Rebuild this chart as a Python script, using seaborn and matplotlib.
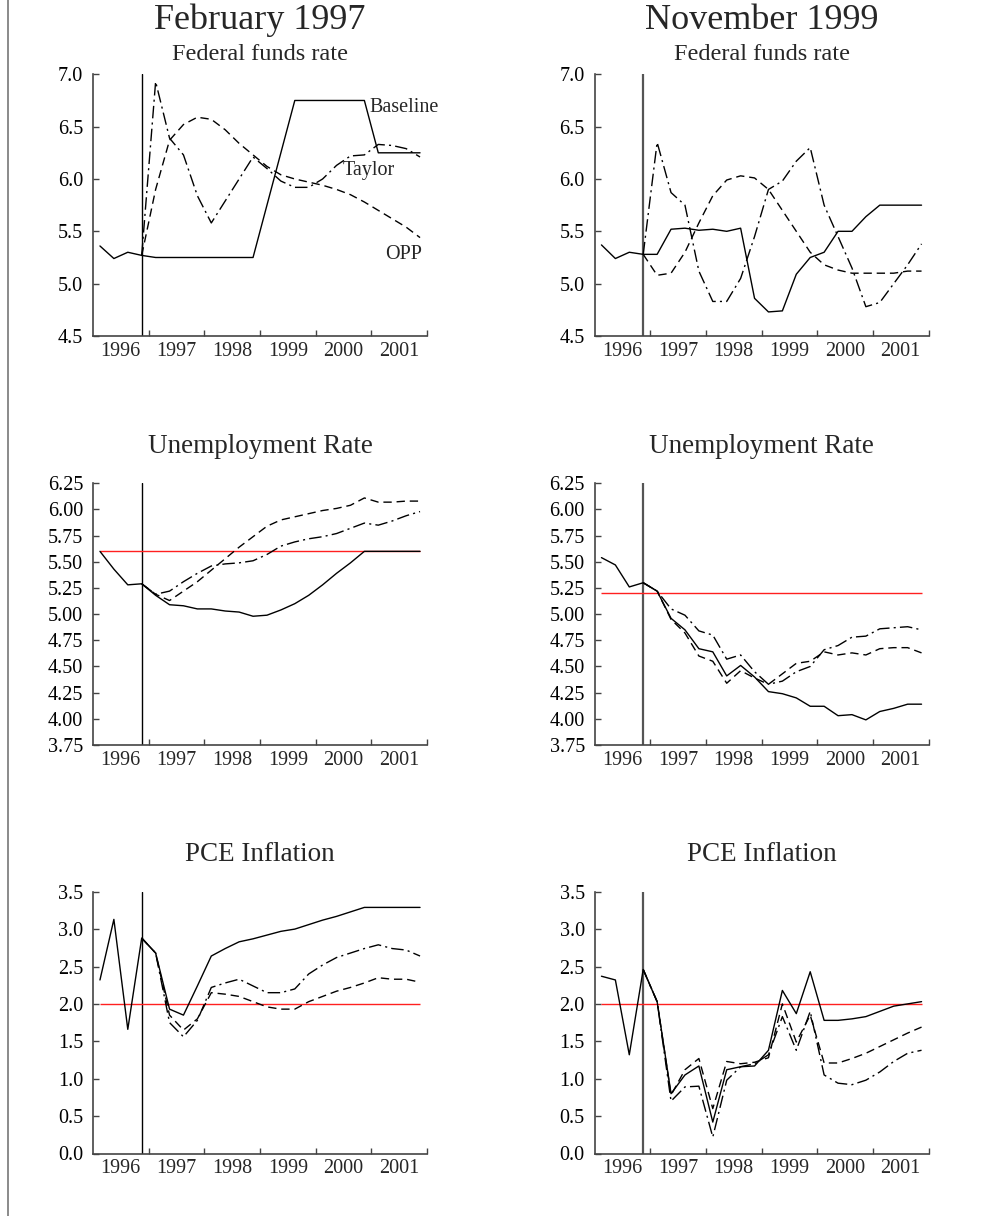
import matplotlib
matplotlib.use("Agg")
import matplotlib.pyplot as plt
import seaborn as sns
import numpy as np
from matplotlib.lines import Line2D

sns.set_theme(style="ticks")
plt.rcParams["font.family"] = ["Liberation Serif", "DejaVu Serif"]

# ---------------- data ----------------
quarter_labels = [f"{y}Q{q}" for y in range(1996, 2002) for q in range(1, 5)]
year_labels = ["1996", "1997", "1998", "1999", "2000", "2001"]
forecast_start = "1996Q4"

# Federal funds rate
feb_ff_base = [5.36, 5.24, 5.30, 5.27, 5.25, 5.25, 5.25, 5.25, 5.25, 5.25, 5.25, 5.25,
               5.75, 6.25, 6.75, 6.75, 6.75, 6.75, 6.75, 6.75, 6.25, 6.25, 6.25, 6.25]
feb_ff_taylor = [5.27, 6.93, 6.39, 6.23, 5.84, 5.58, 5.79, 6.00, 6.21, 6.10, 5.98, 5.92,
                 5.92, 6.00, 6.13, 6.22, 6.23, 6.33, 6.32, 6.29, 6.21]
feb_ff_opp = [5.27, 5.90, 6.37, 6.52, 6.59, 6.57, 6.47, 6.34, 6.23, 6.12, 6.04, 6.00,
              5.97, 5.94, 5.90, 5.85, 5.78, 5.70, 5.62, 5.54, 5.44]
nov_ff_base = [5.37, 5.24, 5.30, 5.28, 5.28, 5.52, 5.53, 5.51, 5.52, 5.50, 5.53, 4.86,
               4.73, 4.74, 5.09, 5.25, 5.30, 5.50, 5.50, 5.64, 5.75, 5.75, 5.75, 5.75]
nov_ff_taylor = [5.28, 6.35, 5.87, 5.75, 5.12, 4.83, 4.83, 5.05, 5.45, 5.90, 5.98, 6.17,
                 6.30, 5.75, 5.45, 5.15, 4.78, 4.82, 5.00, 5.18, 5.38]
nov_ff_opp = [5.28, 5.08, 5.10, 5.30, 5.58, 5.84, 5.99, 6.03, 6.01, 5.90, 5.70, 5.50,
              5.30, 5.18, 5.13, 5.10, 5.10, 5.10, 5.10, 5.12, 5.12]

# Unemployment rate
feb_ur_base = [5.60, 5.43, 5.28, 5.29, 5.18, 5.09, 5.08, 5.05, 5.05, 5.03, 5.02, 4.98,
               4.99, 5.04, 5.10, 5.18, 5.28, 5.39, 5.49, 5.60, 5.60, 5.60, 5.60, 5.60]
feb_ur_taylor = [5.29, 5.19, 5.22, 5.31, 5.39, 5.46, 5.48, 5.49, 5.51, 5.57, 5.65, 5.69,
                 5.72, 5.74, 5.77, 5.82, 5.87, 5.85, 5.89, 5.94, 5.98]
feb_ur_opp = [5.29, 5.19, 5.13, 5.22, 5.31, 5.42, 5.53, 5.64, 5.74, 5.84, 5.90, 5.93,
              5.96, 5.99, 6.01, 6.04, 6.11, 6.07, 6.07, 6.08, 6.08]
nov_ur_base = [5.54, 5.47, 5.26, 5.30, 5.22, 4.96, 4.85, 4.67, 4.64, 4.41, 4.51, 4.40,
               4.26, 4.24, 4.20, 4.12, 4.12, 4.03, 4.04, 3.99, 4.07, 4.10, 4.14, 4.14]
nov_ur_taylor = [5.30, 5.22, 5.05, 4.99, 4.84, 4.80, 4.57, 4.61, 4.45, 4.33, 4.36, 4.45,
                 4.50, 4.66, 4.70, 4.78, 4.79, 4.86, 4.87, 4.88, 4.85]
nov_ur_opp = [5.30, 5.22, 4.95, 4.82, 4.60, 4.55, 4.34, 4.46, 4.39, 4.33, 4.43, 4.53,
              4.55, 4.64, 4.61, 4.63, 4.61, 4.67, 4.68, 4.68, 4.63]

# PCE inflation
feb_pce_base = [2.32, 3.13, 1.66, 2.88, 2.68, 1.93, 1.85, 2.24, 2.64, 2.74, 2.83, 2.87,
                2.92, 2.97, 3.00, 3.06, 3.12, 3.17, 3.23, 3.29, 3.29, 3.29, 3.29, 3.29]
feb_pce_taylor = [2.88, 2.68, 1.75, 1.56, 1.78, 2.22, 2.28, 2.33, 2.24, 2.15, 2.15, 2.20,
                  2.40, 2.52, 2.62, 2.68, 2.74, 2.79, 2.74, 2.72, 2.64]
feb_pce_opp = [2.88, 2.68, 1.85, 1.65, 1.80, 2.15, 2.13, 2.10, 2.03, 1.96, 1.93, 1.93,
               2.03, 2.10, 2.17, 2.22, 2.28, 2.35, 2.33, 2.33, 2.29]
nov_pce_base = [2.37, 2.32, 1.32, 2.46, 2.03, 0.80, 1.05, 1.17, 0.42, 1.12, 1.16, 1.17,
                1.38, 2.18, 1.87, 2.43, 1.78, 1.78, 1.80, 1.83, 1.90, 1.97, 2.00, 2.03]
nov_pce_taylor = [2.46, 2.03, 0.70, 0.89, 0.90, 0.22, 0.98, 1.16, 1.20, 1.32, 1.83, 1.38,
                  1.90, 1.05, 0.94, 0.92, 0.98, 1.09, 1.23, 1.34, 1.38]
nov_pce_opp = [2.46, 2.03, 0.78, 1.12, 1.27, 0.60, 1.23, 1.20, 1.22, 1.28, 2.00, 1.49,
               1.85, 1.21, 1.21, 1.27, 1.34, 1.43, 1.52, 1.61, 1.69]

# reference lines (NAIRU / inflation target)
feb_ur_ref = 5.6
nov_ur_ref = 5.2
pce_ref = 2.0

ff_ticks = [4.5, 5.0, 5.5, 6.0, 6.5, 7.0]
ur_ticks = [3.75, 4.00, 4.25, 4.50, 4.75, 5.00, 5.25, 5.50, 5.75, 6.00, 6.25]
pce_ticks = [0.0, 0.5, 1.0, 1.5, 2.0, 2.5, 3.0, 3.5]


def qpos(label):
    y, q = label.split("Q")
    return int(y) + (int(q) - 0.5) / 4.0


xq = [qpos(l) for l in quarter_labels]
start_idx = quarter_labels.index(forecast_start)
xf = xq[start_idx:]

# ---------------- figure ----------------
W, H = 1005, 1216
fig = plt.figure(figsize=(W / 100, H / 100), dpi=100)


def px_axes(l, t, r, b):
    return fig.add_axes([l / W, 1 - b / H, (r - l) / W, (b - t) / H])


DASH = (0, (6, 3.5))
DASHDOT = (0, (9, 3, 1.5, 3))
SPINE = "#444444"


def style_axes(ax, ticks, fmt, vline_color, vline_lw):
    ax.set_xlim(1996, 2002)
    ax.set_ylim(ticks[0], ticks[-1])
    for s in ["top", "right"]:
        ax.spines[s].set_visible(False)
    for s in ["left", "bottom"]:
        ax.spines[s].set_color(SPINE)
        ax.spines[s].set_linewidth(1.2)
    ax.set_yticks(ticks)
    ax.set_yticklabels([fmt.format(t) for t in ticks])
    bounds = [int(y) + 1 for y in year_labels]
    ax.set_xticks(bounds)
    ax.set_xticklabels([""] * len(bounds))
    ax.set_xticks([int(y) + 0.5 for y in year_labels], minor=True)
    ax.set_xticklabels(year_labels, minor=True)
    ax.tick_params(axis="both", which="major", direction="in", length=4,
                   width=1, color=SPINE, labelsize=14.5, labelcolor="black")
    ax.tick_params(axis="y", pad=7)
    ax.tick_params(axis="x", which="minor", length=0, labelsize=14.5, pad=4)
    ax.axvline(xq[start_idx], color=vline_color, lw=vline_lw, zorder=1)
    ax.set_xlabel("")
    ax.set_ylabel("")
    ax.grid(False)
    ax.set_facecolor("white")


def draw(ax, base, taylor, opp, ref=None):
    if ref is not None:
        ax.hlines(ref, xq[0], xq[-1], color="#ff2020", lw=1.0, zorder=2)
    sns.lineplot(x=xf, y=opp, ax=ax, color="black", lw=1.0, linestyle=DASH,
                 errorbar=None, zorder=3)
    sns.lineplot(x=xf, y=taylor, ax=ax, color="black", lw=1.0, linestyle=DASHDOT,
                 errorbar=None, zorder=3)
    sns.lineplot(x=xq, y=base, ax=ax, color="black", lw=1.0, errorbar=None, zorder=4)


L = (93, 427)
R = (594.5, 928.5)
rows = [(74.3, 336), (483.3, 745), (891.7, 1153.5)]

ax = px_axes(L[0], rows[0][0], L[1], rows[0][1])
draw(ax, feb_ff_base, feb_ff_taylor, feb_ff_opp)
style_axes(ax, ff_ticks, "{:.1f}", "black", 1.0)
ax.text(2000.96, 6.685, "Baseline", fontsize=14.5, ha="left", va="center")
ax.text(2000.49, 6.085, "Taylor", fontsize=14.5, ha="left", va="center")
ax.text(2001.25, 5.28, "OPP", fontsize=14.5, ha="left", va="center")

ax = px_axes(R[0], rows[0][0], R[1], rows[0][1])
draw(ax, nov_ff_base, nov_ff_taylor, nov_ff_opp)
style_axes(ax, ff_ticks, "{:.1f}", "#555555", 1.6)

ax = px_axes(L[0], rows[1][0], L[1], rows[1][1])
draw(ax, feb_ur_base, feb_ur_taylor, feb_ur_opp, feb_ur_ref)
style_axes(ax, ur_ticks, "{:.2f}", "black", 1.0)

ax = px_axes(R[0], rows[1][0], R[1], rows[1][1])
draw(ax, nov_ur_base, nov_ur_taylor, nov_ur_opp, nov_ur_ref)
style_axes(ax, ur_ticks, "{:.2f}", "#555555", 1.6)

ax = px_axes(L[0], rows[2][0], L[1], rows[2][1])
draw(ax, feb_pce_base, feb_pce_taylor, feb_pce_opp, pce_ref)
style_axes(ax, pce_ticks, "{:.1f}", "black", 1.0)

ax = px_axes(R[0], rows[2][0], R[1], rows[2][1])
draw(ax, nov_pce_base, nov_pce_taylor, nov_pce_opp, pce_ref)
style_axes(ax, pce_ticks, "{:.1f}", "#555555", 1.6)

# titles
cl = (L[0] + L[1]) / 2
cr = (R[0] + R[1]) / 2


def ftext(xpx, ypx, s, size):
    fig.text(xpx / W, 1 - ypx / H, s, ha="center", va="baseline", fontsize=size)


ftext(cl, 29, "February 1997", 26)
ftext(cr, 29, "November 1999", 26)
ftext(cl, 60, "Federal funds rate", 17.5)
ftext(cr, 60, "Federal funds rate", 17.5)
ftext(cl, 452.7, "Unemployment Rate", 19.5)
ftext(cr, 452.7, "Unemployment Rate", 19.5)
ftext(cl, 860.7, "PCE Inflation", 19.5)
ftext(cr, 860.7, "PCE Inflation", 19.5)

fig.add_artist(Line2D([8 / W, 8 / W], [0, 1], color="#777777", lw=1.2,
                      transform=fig.transFigure))

fig.savefig("out.png", dpi=100, facecolor="white")
